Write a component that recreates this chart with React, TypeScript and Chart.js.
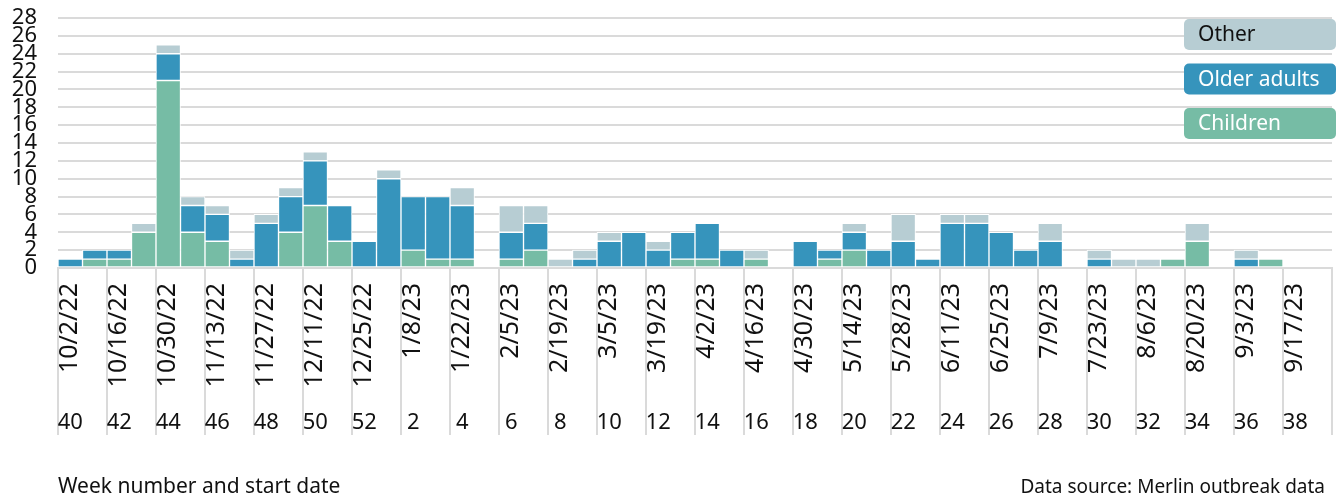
import React, { useEffect, useRef } from 'react';
import { Chart, registerables } from 'chart.js';

Chart.register(...registerables);

const FONT = "'Noto Sans', 'Open Sans', sans-serif";

const weekNumbers = [
  40, 41, 42, 43, 44, 45, 46, 47, 48, 49, 50, 51, 52,
  1, 2, 3, 4, 5, 6, 7, 8, 9, 10, 11, 12, 13, 14, 15, 16, 17, 18, 19, 20,
  21, 22, 23, 24, 25, 26, 27, 28, 29, 30, 31, 32, 33, 34, 35, 36, 37, 38, 39,
];

const startDates = [
  '10/2/22', '10/9/22', '10/16/22', '10/23/22', '10/30/22', '11/6/22', '11/13/22', '11/20/22', '11/27/22',
  '12/4/22', '12/11/22', '12/18/22', '12/25/22', '1/1/23', '1/8/23', '1/15/23', '1/22/23', '1/29/23',
  '2/5/23', '2/12/23', '2/19/23', '2/26/23', '3/5/23', '3/12/23', '3/19/23', '3/26/23', '4/2/23',
  '4/9/23', '4/16/23', '4/23/23', '4/30/23', '5/7/23', '5/14/23', '5/21/23', '5/28/23', '6/4/23',
  '6/11/23', '6/18/23', '6/25/23', '7/2/23', '7/9/23', '7/16/23', '7/23/23', '7/30/23', '8/6/23',
  '8/13/23', '8/20/23', '8/27/23', '9/3/23', '9/10/23', '9/17/23', '9/24/23',
];

const children = [
  0, 1, 1, 4, 21, 4, 3, 0, 0, 4, 7, 3, 0,
  0, 2, 1, 1, 0, 1, 2, 0, 0, 0, 0, 0, 1, 1, 0, 1, 0, 0, 1, 2,
  0, 0, 0, 0, 0, 0, 0, 0, 0, 0, 0, 0, 1, 3, 0, 0, 1, 0, 0,
];

const olderAdults = [
  1, 1, 1, 0, 3, 3, 3, 1, 5, 4, 5, 4, 3,
  10, 6, 7, 6, 0, 3, 3, 0, 1, 3, 4, 2, 3, 4, 2, 0, 0, 3, 1, 2,
  2, 3, 1, 5, 5, 4, 2, 3, 0, 1, 0, 0, 0, 0, 0, 1, 0, 0, 0,
];

const other = [
  0, 0, 0, 1, 1, 1, 1, 1, 1, 1, 1, 0, 0,
  1, 0, 0, 2, 0, 3, 2, 1, 1, 1, 0, 1, 0, 0, 0, 1, 0, 0, 0, 1,
  0, 3, 0, 1, 1, 0, 0, 2, 0, 1, 1, 1, 0, 2, 0, 1, 0, 0, 0,
];

const seriesNames = ['Children', 'Older adults', 'Other'];
const seriesColors = ['#76BCA5', '#3694BC', '#B7CDD3'];
const legendTextColors = ['#ffffff', '#ffffff', '#111111'];

const xAxisTitle = 'Week number and start date';
const sourceNote = 'Data source: Merlin outbreak data';

const Y_MAX = 28;
const Y_STEP = 2;

const GRID = '#dadada';

const boxLegendPlugin = {
  id: 'boxLegend',
  afterDraw(chart: any) {
    const { ctx, chartArea } = chart;
    const w = 152;
    const h = 31;
    const x = chartArea.right + 4 - w;
    ctx.save();
    ctx.font = `21px ${FONT}`;
    ctx.textBaseline = 'middle';
    ctx.textAlign = 'left';
    [2, 1, 0].forEach((dsIdx, i) => {
      const y = chartArea.top + 1 + i * 44.5;
      ctx.beginPath();
      if (ctx.roundRect) ctx.roundRect(x, y, w, h, 5);
      else ctx.rect(x, y, w, h);
      ctx.fillStyle = seriesColors[dsIdx];
      ctx.fill();
      ctx.fillStyle = legendTextColors[dsIdx];
      ctx.fillText(chart.data.datasets[dsIdx].label, x + 14, y + h / 2 + 1);
    });
    ctx.restore();
  },
};

const footerPlugin = {
  id: 'footerText',
  afterDraw(chart: any) {
    const { ctx, chartArea } = chart;
    ctx.save();
    ctx.fillStyle = '#111111';
    ctx.textBaseline = 'alphabetic';
    ctx.textAlign = 'left';
    ctx.font = `21px ${FONT}`;
    ctx.fillText(xAxisTitle, chartArea.left, chart.height - 2);
    ctx.textAlign = 'right';
    ctx.font = `19px ${FONT}`;
    ctx.fillText(sourceNote, chartArea.right - 7, chart.height - 2);
    ctx.restore();
  },
};

export default function App() {
  const canvasRef = useRef<HTMLCanvasElement | null>(null);

  useEffect(() => {
    if (!canvasRef.current) return;
    Chart.defaults.font.family = FONT;
    const series = [children, olderAdults, other];
    const chart = new Chart(canvasRef.current, {
      type: 'bar',
      data: {
        labels: startDates,
        datasets: series.map((arr, i) => ({
          label: seriesNames[i],
          data: arr.map((v) => (v ? v : null)),
          backgroundColor: seriesColors[i],
          borderColor: '#ffffff',
          borderWidth: 1,
          borderSkipped: false,
          categoryPercentage: 1,
          barPercentage: 1,
          xAxisID: 'x',
          yAxisID: 'y',
        })),
      },
      options: {
        animation: false,
        responsive: true,
        maintainAspectRatio: false,
        layout: { padding: { top: 18, right: 8, bottom: 60, left: 0 } },
        plugins: {
          legend: { display: false },
          tooltip: { enabled: false },
        },
        scales: {
          x: {
            type: 'category',
            stacked: true,
            offset: true,
            weight: 0,
            grid: {
              display: true,
              offset: true,
              drawOnChartArea: false,
              drawTicks: true,
              tickLength: 167,
              lineWidth: 2,
              color: (ctx: any) =>
                ctx.index === undefined || ctx.index % 2 === 0 ? GRID : 'rgba(0,0,0,0)',
            },
            border: { display: true, color: GRID, width: 2 },
            ticks: {
              autoSkip: false,
              maxRotation: 90,
              minRotation: 90,
              padding: -152,
              color: '#111111',
              font: { size: 25 },
              callback: (_v: any, i: number) => (i % 2 === 0 ? startDates[i] : ''),
            },
            afterFit: (s: any) => {
              s.height = 130;
            },
          },
          x2: {
            type: 'category',
            position: 'bottom',
            labels: weekNumbers.map(String),
            offset: true,
            weight: 1,
            grid: { display: false },
            border: { display: false },
            ticks: {
              autoSkip: false,
              maxRotation: 0,
              minRotation: 0,
              padding: 4,
              color: '#111111',
              font: { size: 22 },
              callback: (_v: any, i: number) => (i % 2 === 0 ? String(weekNumbers[i]) : ''),
            },
            afterFit: (s: any) => {
              s.height = 37;
            },
          },
          y: {
            stacked: true,
            min: 0,
            max: Y_MAX,
            grid: {
              color: GRID,
              lineWidth: 2,
              drawTicks: true,
              tickLength: 21,
              tickColor: 'rgba(0,0,0,0)',
            },
            border: { display: false },
            ticks: {
              stepSize: Y_STEP,
              autoSkip: false,
              padding: 0,
              color: '#111111',
              font: { size: 22 },
            },
            afterFit: (s: any) => {
              s.width = 58;
            },
          },
        },
      },
      plugins: [boxLegendPlugin, footerPlugin],
    } as any);
    return () => chart.destroy();
  }, []);

  return (
    <div style={{ position: 'fixed', left: 0, top: 0, width: 1340, height: 495, background: '#fff' }}>
      <canvas ref={canvasRef} />
    </div>
  );
}
